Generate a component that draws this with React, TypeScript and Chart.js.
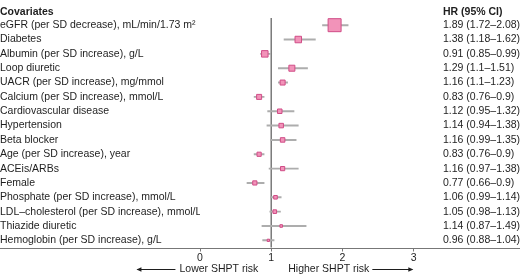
import React, { useEffect, useRef } from "react";
import { Chart, registerables } from "chart.js";

Chart.register(...registerables);

const covariates = [
  "eGFR (per SD decrease), mL/min/1.73 m²",
  "Diabetes",
  "Albumin (per SD increase), g/L",
  "Loop diuretic",
  "UACR (per SD increase), mg/mmol",
  "Calcium (per SD increase), mmol/L",
  "Cardiovascular disease",
  "Hypertension",
  "Beta blocker",
  "Age (per SD increase), year",
  "ACEis/ARBs",
  "Female",
  "Phosphate (per SD increase), mmol/L",
  "LDL–cholesterol (per SD increase), mmol/L",
  "Thiazide diuretic",
  "Hemoglobin (per SD increase), g/L",
];

const hr = [1.89, 1.38, 0.91, 1.29, 1.16, 0.83, 1.12, 1.14, 1.16, 0.83, 1.16, 0.77, 1.06, 1.05, 1.14, 0.96];
const ciLow = [1.72, 1.18, 0.85, 1.1, 1.1, 0.76, 0.95, 0.94, 0.99, 0.76, 0.97, 0.66, 0.99, 0.98, 0.87, 0.88];
const ciHigh = [2.08, 1.62, 0.99, 1.51, 1.23, 0.9, 1.32, 1.38, 1.35, 0.9, 1.38, 0.9, 1.14, 1.13, 1.49, 1.04];

const hrLabels = [
  "1.89 (1.72–2.08)",
  "1.38 (1.18–1.62)",
  "0.91 (0.85–0.99)",
  "1.29 (1.1–1.51)",
  "1.16 (1.1–1.23)",
  "0.83 (0.76–0.9)",
  "1.12 (0.95–1.32)",
  "1.14 (0.94–1.38)",
  "1.16 (0.99–1.35)",
  "0.83 (0.76–0.9)",
  "1.16 (0.97–1.38)",
  "0.77 (0.66–0.9)",
  "1.06 (0.99–1.14)",
  "1.05 (0.98–1.13)",
  "1.14 (0.87–1.49)",
  "0.96 (0.88–1.04)",
];

// relative study weight (drives marker size)
const weights = [13, 6.5, 6.5, 6, 5, 5, 4.5, 4.5, 4.5, 4.2, 4.2, 4.2, 3.6, 3.6, 2.6, 2.3];

const xTicks = [0, 1, 2, 3];
const leftHeader = "Covariates";
const rightHeader = "HR (95% CI)";
const lowerLabel = "Lower SHPT risk";
const higherLabel = "Higher SHPT risk";

const FONT = "'Liberation Sans', Arial, Helvetica, sans-serif";
const FS = 10.5;
const TEXT = "#1e1e1e";

function arrow(ctx: CanvasRenderingContext2D, x1: number, x2: number, y: number) {
  ctx.beginPath();
  ctx.moveTo(x1, y);
  ctx.lineTo(x2, y);
  ctx.stroke();
  const dir = x2 > x1 ? 1 : -1;
  ctx.beginPath();
  ctx.moveTo(x2 + dir * 1, y);
  ctx.lineTo(x2 - dir * 4, y - 2.2);
  ctx.lineTo(x2 - dir * 4, y + 2.2);
  ctx.closePath();
  ctx.fill();
}

const overlay = {
  id: "overlay",
  beforeDatasetsDraw(chart: any) {
    const { ctx, chartArea, scales } = chart;
    const px = scales.x.getPixelForValue(1);
    ctx.save();
    ctx.strokeStyle = "#707070";
    ctx.lineWidth = 1.4;
    ctx.beginPath();
    ctx.moveTo(px, chartArea.top);
    ctx.lineTo(px, chartArea.bottom);
    ctx.stroke();
    ctx.restore();
  },
  afterDraw(chart: any) {
    const { ctx, chartArea, scales } = chart;
    ctx.save();
    // full-width axis line
    ctx.strokeStyle = "#777";
    ctx.lineWidth = 1;
    ctx.beginPath();
    ctx.moveTo(0, Math.round(chartArea.bottom) + 0.5);
    ctx.lineTo(chart.width, Math.round(chartArea.bottom) + 0.5);
    ctx.stroke();

    // headers
    ctx.fillStyle = TEXT;
    ctx.textBaseline = "middle";
    ctx.font = `bold ${FS}px ${FONT}`;
    ctx.textAlign = "left";
    ctx.fillText(leftHeader, 0, 12);
    ctx.fillText(rightHeader, scales.y2.left + 3, 12);

    // bottom arrows
    const px = scales.x.getPixelForValue(1);
    const y = 269;
    ctx.font = `${FS}px ${FONT}`;
    ctx.textAlign = "right";
    const lx = px - 13;
    ctx.fillText(lowerLabel, lx, y);
    const lw = ctx.measureText(lowerLabel).width;
    ctx.textAlign = "left";
    const hx = px + 17;
    ctx.fillText(higherLabel, hx, y);
    const hw = ctx.measureText(higherLabel).width;

    ctx.strokeStyle = TEXT;
    ctx.fillStyle = TEXT;
    ctx.lineWidth = 1;
    arrow(ctx, lx - lw - 4, lx - lw - 42, y + 0.5);
    arrow(ctx, hx + hw + 3, hx + hw + 43, y + 0.5);
    ctx.restore();
  },
};

export default function App() {
  const ref = useRef<HTMLCanvasElement | null>(null);

  useEffect(() => {
    document.body.style.margin = "0";
    const canvas = ref.current;
    if (!canvas) return;
    const font = { family: FONT, size: FS };
    const chart = new Chart(canvas, {
      type: "bar",
      data: {
        labels: covariates,
        datasets: [
          {
            type: "scatter",
            data: hr.map((v, i) => ({ x: v, y: covariates[i] })),
            pointStyle: "rect",
            pointRadius: weights.map((w) => w * Math.SQRT1_2),
            backgroundColor: "#f293b9",
            borderColor: "#d04d87",
            borderWidth: 1,
            xAxisID: "x",
            yAxisID: "y",
          } as any,
          {
            type: "bar",
            data: ciLow.map((l, i) => [l, ciHigh[i]]),
            backgroundColor: "#adadad",
            borderWidth: 0,
            barThickness: 1.3,
            xAxisID: "x",
            yAxisID: "y",
          } as any,
        ],
      },
      options: {
        indexAxis: "y",
        animation: false,
        responsive: false,
        maintainAspectRatio: false,
        layout: { padding: { top: 18, left: 0, right: 0, bottom: 0 } },
        plugins: { legend: { display: false }, tooltip: { enabled: false } },
        scales: {
          x: {
            type: "linear",
            position: "bottom",
            min: 0,
            max: 3.37,
            afterBuildTicks: (s: any) => {
              s.ticks = xTicks.map((v) => ({ value: v }));
            },
            afterFit: (s: any) => {
              s.height = 29.5;
            },
            grid: { drawOnChartArea: false, drawTicks: true, tickLength: 4, color: "#777" },
            border: { display: false },
            ticks: { padding: 0.5, color: TEXT, font, maxRotation: 0 },
          },
          y: {
            type: "category",
            labels: covariates,
            offset: true,
            position: "left",
            afterFit: (s: any) => {
              s.width = 200;
            },
            grid: { display: false, drawTicks: false },
            border: { display: false },
            ticks: { crossAlign: "far", color: TEXT, font, autoSkip: false, padding: 0 },
          },
          y2: {
            type: "category",
            labels: hrLabels,
            offset: true,
            position: "right",
            afterFit: (s: any) => {
              s.width = 80;
            },
            grid: { display: false, drawTicks: false },
            border: { display: false },
            ticks: { crossAlign: "near", color: TEXT, font, autoSkip: false, padding: 3 },
          },
        },
      } as any,
      plugins: [overlay],
    });
    return () => chart.destroy();
  }, []);

  return (
    <div style={{ width: 520, height: 277 }}>
      <canvas ref={ref} width={520} height={277} style={{ display: "block" }} />
    </div>
  );
}
